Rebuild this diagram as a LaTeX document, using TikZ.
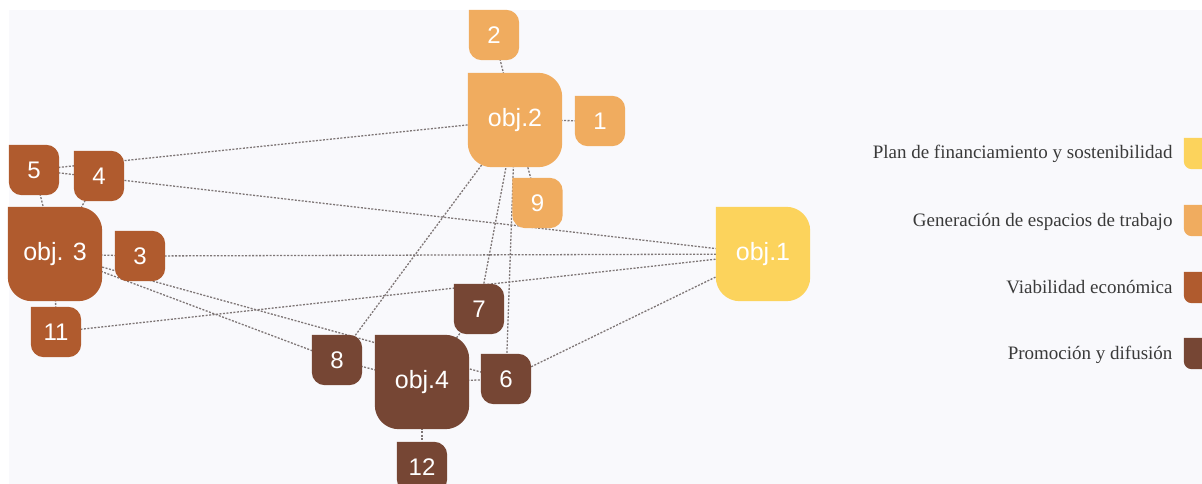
\documentclass[tikz,border=0pt]{standalone}
\usepackage{fontspec}
\setmainfont{Liberation Serif}
\newfontfamily\arialf{Liberation Sans}
\usetikzlibrary{backgrounds}
\definecolor{cY}{HTML}{FCD35C}
\definecolor{cO}{HTML}{F0AC5F}
\definecolor{cB}{HTML}{B05B2E}
\definecolor{cD}{HTML}{764634}
\definecolor{bgc}{HTML}{F9F9FC}
\definecolor{linkc}{HTML}{7E7676}
\definecolor{legtext}{HTML}{3A3A3A}
\newcommand\leafshape[3]{%
  \fill[#2] (#1.north west) -- ([xshift=-#3]#1.north east)
    arc[start angle=90,end angle=0,radius=#3] -- ([yshift=#3]#1.south east)
    arc[start angle=0,end angle=-90,radius=#3] -- ([xshift=#3]#1.south west)
    arc[start angle=270,end angle=180,radius=#3] -- cycle;}
\begin{document}
\begin{tikzpicture}[x=1pt,y=1pt,
  big/.style={minimum size=94pt, inner sep=0pt, text=white, font=\arialf\fontsize{25}{25}\selectfont},
  small/.style={minimum size=50pt, inner sep=0pt, text=white, font=\arialf\fontsize{24}{24}\selectfont},
  legsq/.style={minimum size=31pt, inner sep=0pt},
  link/.style={draw=linkc, line width=1.3pt, dash pattern=on 2pt off 1.5pt},
  leg/.style={anchor=base east, text=legtext, font=\fontsize{19}{19}\selectfont}]
\useasboundingbox (0,0) rectangle (1202,-484);
% nodes (text)
\node[big] (o1) at (763,-254) {obj.1};
\node[big] (o2) at (515,-120) {obj.2};
\node[big] (o3) at (55,-254) {obj. 3};
\node[big] (o4) at (422,-382) {obj.4};
\node[small] (n1) at (600,-121) {1};
\node[small] (n2) at (494,-35) {2};
\node[small] (n9) at (537.5,-203) {9};
\node[small] (n3) at (140,-256) {3};
\node[small] (n4) at (99,-176) {4};
\node[small] (n5) at (34,-170) {5};
\node[small] (n11) at (56,-332) {11};
\node[small] (n6) at (506,-379) {6};
\node[small] (n7) at (479,-309) {7};
\node[small] (n8) at (337,-360) {8};
\node[small] (n12) at (422,-467) {12};
% legend
\node[legsq] (s1) at (1199.5,-153.5) {};
\node[legsq] (s2) at (1199.5,-220.5) {};
\node[legsq] (s3) at (1199.5,-287.5) {};
\node[legsq] (s4) at (1199.5,-353.5) {};
\node[leg] (t1) at (1176,-159) {Plan de financiamiento y sostenibilidad};
\node[leg] (t2) at (1176,-226) {Generación de espacios de trabajo};
\node[leg] (t3) at (1176,-293) {Viabilidad económica};
\node[leg] (t4) at (1176,-359) {Promoción y difusión};
\begin{pgfonlayer}{background}
\clip (0,0) rectangle (1202,-484);
\fill[white] (0,0) rectangle (1202,-484);
\fill[bgc] (9,-10) rectangle (1202,-484);
% connectors
\draw[link] (n2.center) -- (o2.center);
\draw[link] (o2.center) -- (n1.center);
\draw[link] (o2.center) -- (n9.center);
\draw[link] (o2.center) -- (n7.center);
\draw[link] (o2.center) -- (n6.center);
\draw[link] (o2.center) -- (n8.center);
\draw[link] (n5.center) -- (o2.center);
\draw[link] (n5.center) -- (o1.center);
\draw[link] (n5.center) -- (o3.center);
\draw[link] (n4.center) -- (o3.center);
\draw[link] (o3.center) -- (n3.center);
\draw[link] (n3.center) -- (o1.center);
\draw[link] (o3.center) -- (n11.center);
\draw[link] (n11.center) -- (o1.center);
\draw[link] (o3.center) -- (n8.center);
\draw[link] (o3.center) -- (n6.center);
\draw[link] (n8.center) -- (o4.center);
\draw[link] (o4.center) -- (n7.center);
\draw[link] (o4.center) -- (n6.center);
\draw[link] (o4.center) -- (n12.center);
\draw[link] (n6.center) -- (o1.center);
% shapes
\leafshape{o1}{cY}{24pt}
\leafshape{o2}{cO}{24pt}
\leafshape{o3}{cB}{24pt}
\leafshape{o4}{cD}{24pt}
\leafshape{n1}{cO}{13pt}
\leafshape{n2}{cO}{13pt}
\leafshape{n9}{cO}{13pt}
\leafshape{n3}{cB}{13pt}
\leafshape{n4}{cB}{13pt}
\leafshape{n5}{cB}{13pt}
\leafshape{n11}{cB}{13pt}
\leafshape{n6}{cD}{13pt}
\leafshape{n7}{cD}{13pt}
\leafshape{n8}{cD}{13pt}
\leafshape{n12}{cD}{13pt}
\leafshape{s1}{cY}{8pt}
\leafshape{s2}{cO}{8pt}
\leafshape{s3}{cB}{8pt}
\leafshape{s4}{cD}{8pt}
\end{pgfonlayer}
\end{tikzpicture}
\end{document}
